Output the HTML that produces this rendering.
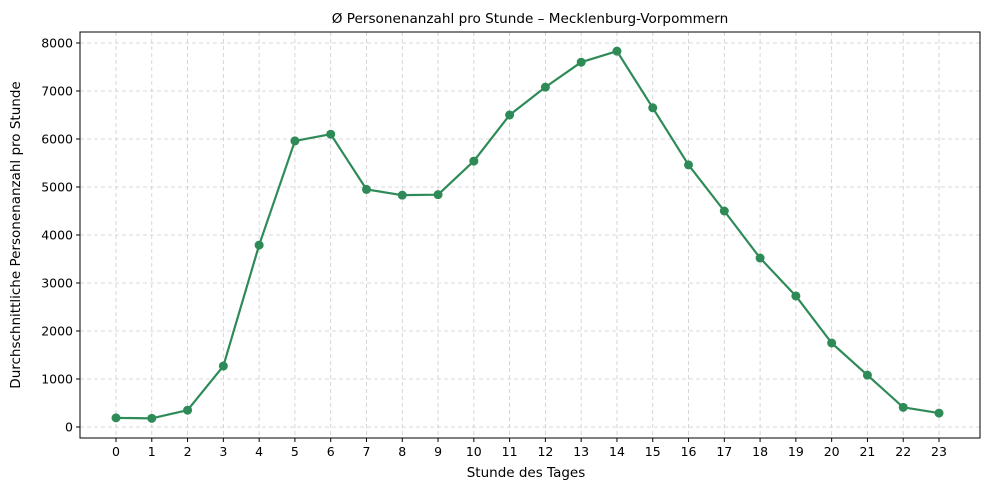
<!DOCTYPE html>
<html><head><meta charset="utf-8"><style>
body{margin:0;background:#fff;}
svg{display:block;font-family:"DejaVu Sans","Liberation Sans",sans-serif;}
</style></head><body>
<svg id="chart" width="989" height="490">
<text x="530" y="23" text-anchor="middle" font-size="13.6">Ø Personenanzahl pro Stunde – Mecklenburg-Vorpommern</text>
<text x="526" y="477" text-anchor="middle" font-size="13.5">Stunde des Tages</text>
<text transform="translate(20,235) rotate(-90)" text-anchor="middle" font-size="13.5">Durchschnittliche Personenanzahl pro Stunde</text>
<g id="grid"></g><g id="axes"></g><g id="series"></g>
<rect x="80" y="32" width="900" height="406" fill="none" stroke="#000" stroke-width="1"/>
</svg>
<script>
const hours=[0,1,2,3,4,5,6,7,8,9,10,11,12,13,14,15,16,17,18,19,20,21,22,23];
const values=[190,180,350,1270,3790,5960,6100,4950,4830,4840,5540,6500,7080,7600,7830,6650,5460,4500,3520,2730,1750,1080,410,290];
const yTicks=[0,1000,2000,3000,4000,5000,6000,7000,8000];
const NS="http://www.w3.org/2000/svg";
const xs=h=>116+h*(939-116)/23;
const ys=v=>427-v*0.048;
const grid=document.getElementById('grid'),axes=document.getElementById('axes'),ser=document.getElementById('series');
function mk(t,a,p){const e=document.createElementNS(NS,t);for(const k in a)e.setAttribute(k,a[k]);p.appendChild(e);return e;}
hours.forEach(h=>{
 const g=mk('line',{x1:xs(h),x2:xs(h),y1:32,y2:438,stroke:'#ccc','stroke-dasharray':'4,3','stroke-width':0.8},grid);
 
 
 mk('line',{x1:xs(h),x2:xs(h),y1:438,y2:442,stroke:'#000'},axes);
 const t=mk('text',{x:xs(h),y:456,'text-anchor':'middle','font-size':12.5},axes);t.textContent=h;
 
 
});
yTicks.forEach(v=>{
 const g=mk('line',{x1:80,x2:980,y1:ys(v),y2:ys(v),stroke:'#ccc','stroke-dasharray':'4,3','stroke-width':0.8},grid);
 
 
 mk('line',{x1:76,x2:80,y1:ys(v),y2:ys(v),stroke:'#000'},axes);
 const t=mk('text',{x:73,y:ys(v)+4.5,'text-anchor':'end','font-size':12.5},axes);t.textContent=v;
 
 
});
const pl=mk('polyline',{points:hours.map((h,i)=>xs(h)+','+ys(values[i])).join(' '),fill:'none',stroke:'#2e8b57','stroke-width':2.2,'stroke-linejoin':'round'},ser);


hours.forEach((h,i)=>{
 const c=mk('circle',{cx:xs(h),cy:ys(values[i]),r:4.5,fill:'#2e8b57'},ser);
 
 
});
</script>
</body></html>
